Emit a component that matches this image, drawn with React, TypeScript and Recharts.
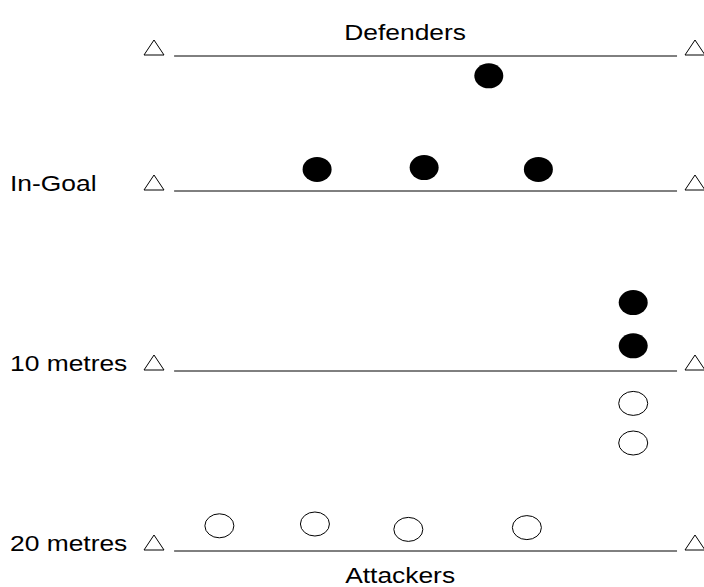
import React from 'react';
import { ScatterChart, Scatter, XAxis, YAxis, ReferenceLine } from 'recharts';

// lines across the pitch, metres from the try line (down = upfield)
const lineNames = ['Dead-ball', 'In-Goal', '10 metres', '20 metres'];
const lineMetres = [-7.5, 0, 10, 20];
const sideLabels = ['', 'In-Goal', '10 metres', '20 metres'];
const lineStart = 0;
const lineEnd = 70;

// cones just off each end of the lines
const coneX = [-2.8, 72.5];

// players, metres across / metres from the try line
const defenderX = [43.8, 19.9, 34.8, 50.7, 63.9, 63.9];
const defenderY = [-6.4, -1.2, -1.3, -1.2, 6.2, 8.6];
const attackerX = [63.9, 63.9, 6.3, 19.6, 32.6, 49.1];
const attackerY = [11.8, 14.0, 18.6, 18.5, 18.8, 18.7];

const teamTop = 'Defenders';
const teamBottom = 'Attackers';

const cones = lineMetres.flatMap((y, i) => coneX.map((x) => ({ x, y, line: lineNames[i] })));
const defenders = defenderX.map((x, i) => ({ x, y: defenderY[i] }));
const attackers = attackerX.map((x, i) => ({ x, y: attackerY[i] }));

const font = '"Liberation Sans", Arial, sans-serif';

function StretchText({ x, y, anchor = 'start', children }: any) {
  return (
    <text
      transform={`translate(${x},${y}) scale(1.2,1)`}
      textAnchor={anchor}
      fontFamily={font}
      fontSize={22}
      fill="#000"
    >
      {children}
    </text>
  );
}

const Cone = ({ cx, cy }: any) => (
  <polygon
    points={`${cx - 10},${cy - 1} ${cx + 10},${cy - 1} ${cx},${cy - 16}`}
    fill="#fff"
    stroke="#000"
    strokeWidth={1}
  />
);

const Defender = ({ cx, cy }: any) => <ellipse cx={cx} cy={cy} rx={14.5} ry={12.5} fill="#000" />;

const Attacker = ({ cx, cy }: any) => (
  <ellipse cx={cx} cy={cy} rx={14.5} ry={12} fill="#fff" stroke="#000" strokeWidth={1} />
);

export default function App() {
  return (
    <div style={{ position: 'absolute', left: 0, top: 0, background: '#fff' }}>
      <ScatterChart width={704} height={587} margin={{ top: 56, right: 9, bottom: 36, left: 154 }}>
        <XAxis type="number" dataKey="x" domain={[-2.8, 72.5]} hide />
        <YAxis type="number" dataKey="y" domain={[-7.5, 20]} reversed hide />
        {lineMetres.map((m, i) => (
          <ReferenceLine
            key={lineNames[i]}
            segment={[
              { x: lineStart, y: m },
              { x: lineEnd, y: m },
            ]}
            stroke="#000"
            strokeWidth={1}
            ifOverflow="visible"
            label={(props: any) => {
              const vb = props.viewBox;
              return (
                <g>
                  {sideLabels[i] && (
                    <StretchText x={10} y={vb.y}>
                      {sideLabels[i]}
                    </StretchText>
                  )}
                  {i === 0 && (
                    <StretchText x={vb.x + 231} y={vb.y - 16} anchor="middle">
                      {teamTop}
                    </StretchText>
                  )}
                  {i === lineMetres.length - 1 && (
                    <StretchText x={vb.x + 226} y={vb.y + 32} anchor="middle">
                      {teamBottom}
                    </StretchText>
                  )}
                </g>
              );
            }}
          />
        ))}
        <Scatter data={cones} shape={Cone} isAnimationActive={false} />
        <Scatter data={defenders} shape={Defender} isAnimationActive={false} />
        <Scatter data={attackers} shape={Attacker} isAnimationActive={false} />
      </ScatterChart>
    </div>
  );
}
